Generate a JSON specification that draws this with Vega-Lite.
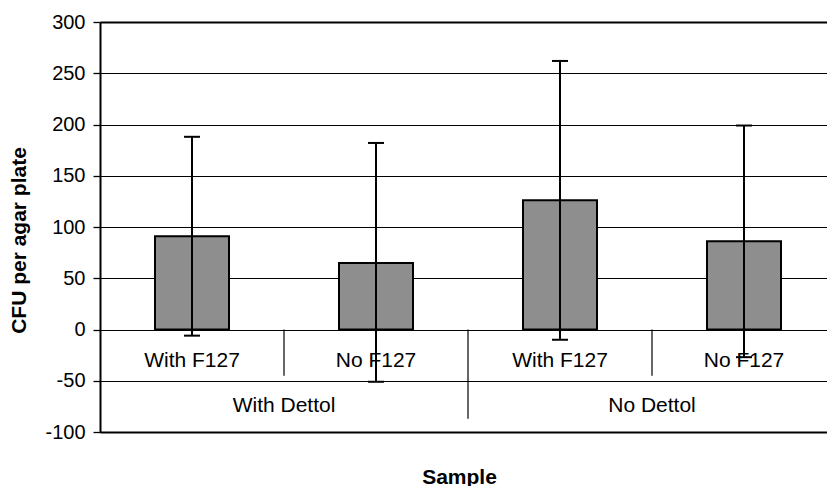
{
  "$schema": "https://vega.github.io/schema/vega-lite/v6.json",
  "width": 727,
  "height": 410,
  "autosize": {"type": "none"},
  "padding": {"left": 100, "top": 22, "right": 0, "bottom": 54},
  "background": "white",
  "config": {"view": {"stroke": null}, "font": "Liberation Sans"},
  "datasets": {
    "bars": [
      {"sample": "s1", "dettol": "With Dettol", "f127": "With F127", "mean": 91, "lo": -6, "hi": 188},
      {"sample": "s2", "dettol": "With Dettol", "f127": "No F127", "mean": 65, "lo": -51, "hi": 182},
      {"sample": "s3", "dettol": "No Dettol", "f127": "With F127", "mean": 126, "lo": -10, "hi": 262},
      {"sample": "s4", "dettol": "No Dettol", "f127": "No F127", "mean": 86, "lo": -27, "hi": 199}
    ],
    "groups": [
      {"group": "With Dettol", "at": "s2"},
      {"group": "No Dettol", "at": "s4"}
    ],
    "subseps": [{"at": "s2"}, {"at": "s4"}],
    "groupseps": [{"at": "s3"}]
  },
  "encoding": {
    "x": {
      "field": "sample", "type": "nominal",
      "scale": {"type": "band", "domain": ["s1", "s2", "s3", "s4"], "range": [0, 736], "paddingInner": 0, "paddingOuter": 0},
      "axis": {
        "orient": "bottom", "labels": false, "ticks": false, "domain": true,
        "domainColor": "black", "domainWidth": 2,
        "title": "Sample", "titleFont": "Liberation Sans", "titleFontSize": 21, "titleFontWeight": "bold", "titleColor": "black",
        "titleX": 359, "titleY": 51, "titleBaseline": "alphabetic", "titleAlign": "center"
      }
    },
    "y": {
      "type": "quantitative",
      "scale": {"domain": [-100, 300], "nice": false, "zero": false},
      "axis": {
        "title": "CFU per agar plate",
        "values": [-100, -50, 0, 50, 100, 150, 200, 250, 300],
        "labelExpr": "datum.value + ''",
        "grid": true, "gridColor": "black", "gridOpacity": 1,
        "gridWidth": {"condition": {"test": "datum.value === 300", "value": 2.2}, "value": 1.2},
        "domainColor": "black", "domainWidth": 2,
        "tickColor": "black", "tickSize": 7, "tickWidth": 1.3,
        "labelFont": "Liberation Sans", "labelFontSize": 20, "labelColor": "black", "labelPadding": 8,
        "titleFont": "Liberation Sans", "titleFontSize": 21, "titleFontWeight": "bold", "titleColor": "black",
        "titleAngle": -90, "titleX": -81, "titleY": 218, "titleBaseline": "middle", "titleAlign": "center"
      }
    }
  },
  "layer": [
    {
      "data": {"name": "bars"},
      "mark": {"type": "bar", "size": 74, "fill": "#8e8e8e", "stroke": "black", "strokeWidth": 2},
      "encoding": {
        "y": {"field": "mean", "type": "quantitative"}
      }
    },
    {
      "data": {"name": "bars"},
      "mark": {"type": "rule", "color": "black", "strokeWidth": 2},
      "encoding": {
        "y": {"field": "lo", "type": "quantitative"},
        "y2": {"field": "hi"}
      }
    },
    {
      "data": {"name": "bars"},
      "mark": {"type": "tick", "orient": "horizontal", "size": 16, "thickness": 2, "color": "black", "opacity": 1},
      "encoding": {
        "y": {"field": "hi", "type": "quantitative"}
      }
    },
    {
      "data": {"name": "bars"},
      "mark": {"type": "tick", "orient": "horizontal", "size": 16, "thickness": 2, "color": "black", "opacity": 1},
      "encoding": {
        "y": {"field": "lo", "type": "quantitative"}
      }
    },
    {
      "data": {"name": "bars"},
      "mark": {"type": "text", "font": "Liberation Sans", "fontSize": 21, "color": "black", "align": "center", "baseline": "alphabetic"},
      "encoding": {
        "y": {"datum": -37, "type": "quantitative"},
        "text": {"field": "f127"}
      }
    },
    {
      "data": {"name": "subseps"},
      "mark": {"type": "rule", "color": "black", "strokeWidth": 1.2},
      "encoding": {
        "x": {"field": "at", "type": "nominal", "bandPosition": 0},
        "y": {"datum": 0, "type": "quantitative"},
        "y2": {"datum": -45}
      }
    },
    {
      "data": {"name": "groupseps"},
      "mark": {"type": "rule", "color": "black", "strokeWidth": 1.2},
      "encoding": {
        "x": {"field": "at", "type": "nominal", "bandPosition": 0},
        "y": {"datum": 0, "type": "quantitative"},
        "y2": {"datum": -87}
      }
    },
    {
      "data": {"name": "groups"},
      "mark": {"type": "text", "font": "Liberation Sans", "fontSize": 21, "color": "black", "align": "center", "baseline": "alphabetic"},
      "encoding": {
        "x": {"field": "at", "type": "nominal", "bandPosition": 0},
        "y": {"datum": -80, "type": "quantitative"},
        "text": {"field": "group"}
      }
    }
  ]
}
